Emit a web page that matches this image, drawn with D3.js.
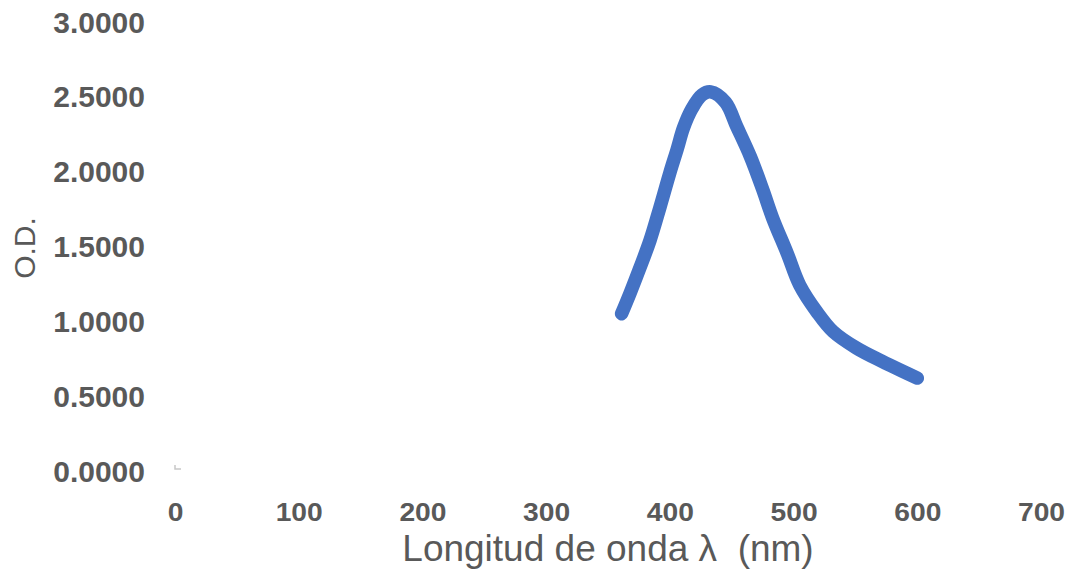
<!DOCTYPE html>
<html>
<head>
<meta charset="utf-8">
<script src="https://cdn.jsdelivr.net/npm/d3@7"></script>
<style>
  html, body { margin: 0; padding: 0; background: #ffffff; }
  svg { display: block; }
</style>
</head>
<body>
<svg id="chart" width="1073" height="573"></svg>
<script>
// Absorption spectrum: wavelength (nm) vs optical density
const wavelengths = [361, 368, 376, 384, 392, 400, 406, 411, 418, 426, 433, 445, 454, 465, 475, 483, 495, 505, 519, 532, 551, 572, 600];
const opticalDensity = [1.05, 1.19, 1.36, 1.54, 1.76, 1.99, 2.15, 2.29, 2.42, 2.51, 2.53, 2.46, 2.30, 2.10, 1.88, 1.69, 1.45, 1.24, 1.06, 0.93, 0.82, 0.73, 0.62];

const xTicks = [0, 100, 200, 300, 400, 500, 600, 700];
const yTicks = [0, 0.5, 1, 1.5, 2, 2.5, 3];

const xTitle = "Longitud de onda λ  (nm)";
const yTitle = "O.D.";

const textColor = "#595959";
const lineColor = "#4472C4";
const fontFamily = "'Liberation Sans', Arial, sans-serif";

const svg = d3.select("#chart");

const x = d3.scaleLinear().domain([0, 700]).range([175, 1041]);
const y = d3.scaleLinear().domain([0, 3]).range([471, 21.5]);

// Y axis tick labels (no axis line)
const yAxis = d3.axisLeft(y)
  .tickValues(yTicks)
  .tickFormat(d3.format(".4f"))
  .tickSize(0)
  .tickPadding(0);

svg.append("g")
  .attr("transform", "translate(145,0)")
  .call(yAxis)
  .call(g => g.select(".domain").remove())
  .selectAll("text")
  .attr("fill", textColor)
  .attr("font-family", fontFamily)
  .attr("font-weight", "bold")
  .attr("font-size", 30)
  .attr("dy", "0.35em");

// X axis tick labels (no axis line)
const xAxis = d3.axisBottom(x)
  .tickValues(xTicks)
  .tickFormat(d3.format("d"))
  .tickSize(0)
  .tickPadding(0);

svg.append("g")
  .attr("transform", "translate(0,521)")
  .call(xAxis)
  .call(g => g.select(".domain").remove())
  .selectAll(".tick text")
  .attr("fill", textColor)
  .attr("font-family", fontFamily)
  .attr("font-weight", "bold")
  .attr("font-size", 25)
  .attr("dy", 0)
  .attr("transform", "scale(1.13,1)");

// Tiny corner mark at the origin
svg.append("path")
  .attr("d", `M${x(0)},${y(0) - 6}V${y(0) - 2}H${x(0) + 6}`)
  .attr("fill", "none")
  .attr("stroke", "#c8c8c8")
  .attr("stroke-width", 1.5);

// Spectrum trace
const pts = wavelengths.map((w, i) => [w, opticalDensity[i]]);
const line = d3.line()
  .x(d => x(d[0]))
  .y(d => y(d[1]))
  .curve(d3.curveCatmullRom.alpha(0.5));

svg.append("path")
  .datum(pts)
  .attr("d", line)
  .attr("fill", "none")
  .attr("stroke", lineColor)
  .attr("stroke-width", 13.5)
  .attr("stroke-linecap", "round")
  .attr("stroke-linejoin", "round");

// Axis titles
svg.append("text")
  .attr("x", 608)
  .attr("y", 561)
  .attr("text-anchor", "middle")
  .attr("fill", textColor)
  .attr("font-family", fontFamily)
  .attr("font-size", 37)
  .style("white-space", "pre")
  .text(xTitle);

svg.append("text")
  .attr("transform", "translate(35,248) rotate(-90)")
  .attr("text-anchor", "middle")
  .attr("fill", textColor)
  .attr("font-family", fontFamily)
  .attr("font-size", 30)
  .text(yTitle);
</script>
</body>
</html>
